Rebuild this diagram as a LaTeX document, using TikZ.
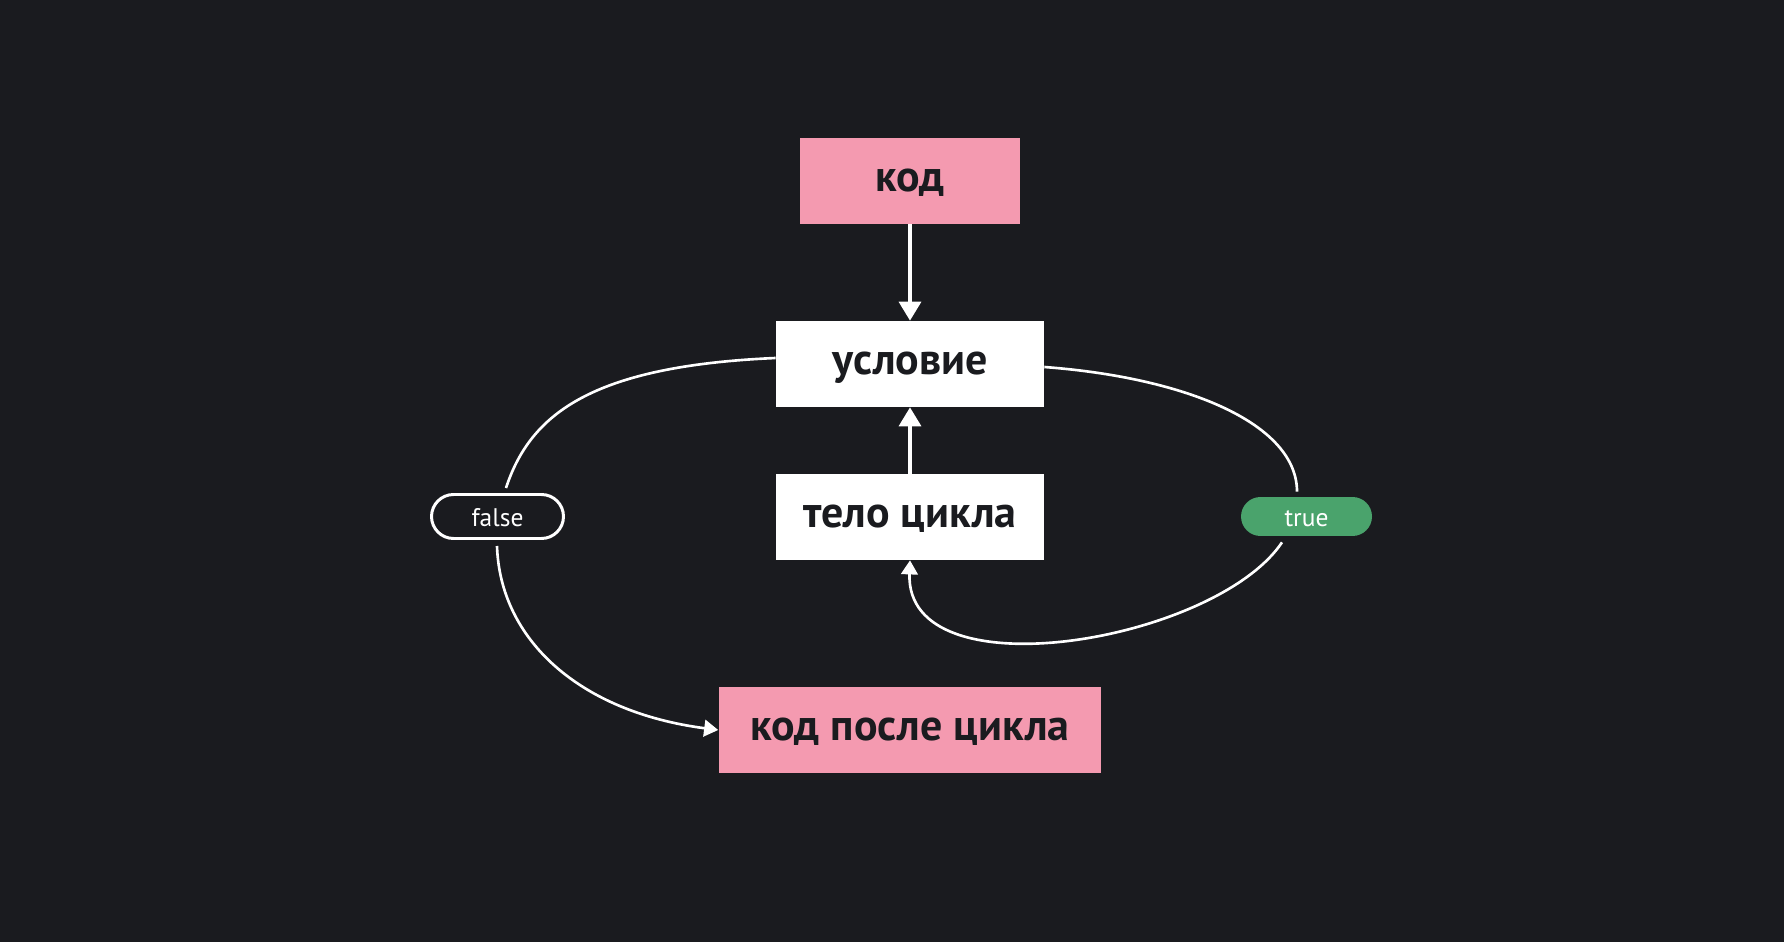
\documentclass[tikz,border=0pt]{standalone}
\usepackage{fontspec}
\setmainfont{PT Sans}
\usetikzlibrary{arrows.meta,calc}
\definecolor{bg}{HTML}{1A1B1F}
\definecolor{pinkbox}{HTML}{F49AB0}
\definecolor{greenpill}{HTML}{4AA36C}
\definecolor{ink}{HTML}{1A1B1F}
\tikzset{
  box/.style={rectangle, minimum height=1.72cm, inner sep=0pt, text=ink,
    text height=12pt, text depth=0pt,
    font=\fontsize{25}{30}\selectfont\bfseries},
  pinkbox/.style={box, fill=pinkbox},
  whitebox/.style={box, fill=white},
  pilltext/.style={text height=7pt, text depth=0pt, text=white,
    font=\fontsize{14.5}{17}\selectfont},
  falsepill/.style={pilltext, rectangle, rounded corners=0.44cm, draw=white, line width=1.7pt,
    fill=bg, minimum width=2.64cm, minimum height=0.88cm, inner sep=0pt},
  truepill/.style={pilltext, rectangle, rounded corners=0.39cm, fill=greenpill,
    minimum width=2.62cm, minimum height=0.78cm, inner sep=0pt},
  straightarrow/.style={draw=white, line width=2pt, -{Triangle[width=12.5pt,length=10.8pt]}},
  curve/.style={draw=white, line width=1.5pt},
  curvearrow/.style={curve, -{Triangle[width=9.5pt,length=8pt]}}
}
\begin{document}
\begin{tikzpicture}[x=0.02cm,y=-0.02cm]
\fill[bg] (0,0) rectangle (1784,942);
\useasboundingbox (0,0) rectangle (1784,942);

\node[pinkbox, minimum width=4.4cm] (code) at (910,181) {код};
\node[whitebox, minimum width=5.36cm] (cond) at (910,364) {условие};
\node[whitebox, minimum width=5.36cm] (body) at (910,517) {тело цикла};
\node[pinkbox, minimum width=7.66cm] (after) at (910,730) {код после цикла};
\node[falsepill] (false) at (497.5,516.5) {\raisebox{-2pt}{false}};
\node[truepill] (true) at (1306.5,516.5) {\raisebox{-2pt}{true}};

\coordinate (fin) at ($(false.north)+(8.5,-5)$);
\coordinate (fout) at ($(false.south)+(-0.5,6)$);
\coordinate (tin) at ($(true.north)+(-9.5,-5)$);
\coordinate (tout) at ($(true.south)+(-24.5,6)$);

\draw[straightarrow] (code.south) -- (cond.north);
\draw[straightarrow] (body.north) -- (cond.south);

\draw[curve] ($(cond.west)+(0,-6)$) .. controls (590,366) and (530,415) .. (fin);
\draw[curvearrow] (fout) .. controls (500,640) and (580,712) .. (after.west);
\draw[curve] ($(cond.east)+(0,3)$) .. controls (1190,378) and (1297,425) .. (tin);
\draw[curvearrow] (tout) .. controls (1215,642) and (905,695) .. (body.south);
\end{tikzpicture}
\end{document}
